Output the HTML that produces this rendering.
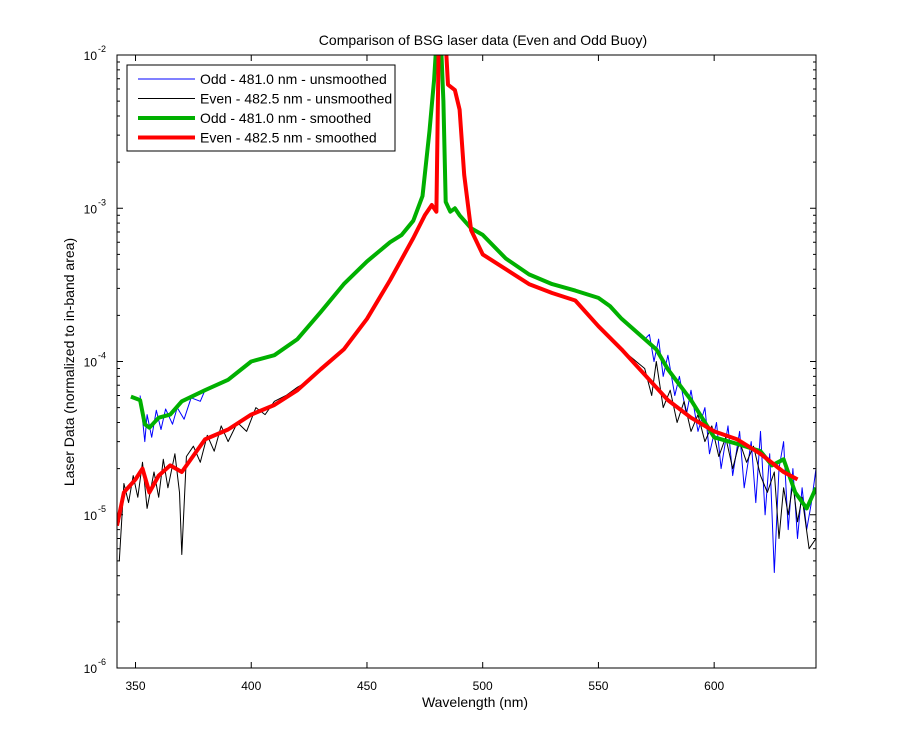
<!DOCTYPE html>
<html><head><meta charset="utf-8"><style>
body{margin:0;background:#fff;}
svg text{font-family:"Liberation Sans",sans-serif;}
</style></head><body>
<svg id="chart" width="900" height="750" xmlns="http://www.w3.org/2000/svg">
<rect width="900" height="750" fill="#fff"/>
<text x="483" y="45" font-size="14" text-anchor="middle">Comparison of BSG laser data (Even and Odd Buoy)</text>
<text x="475" y="707" font-size="14" text-anchor="middle">Wavelength (nm)</text>
<text x="74" y="362" font-size="14" text-anchor="middle" transform="rotate(-90 74 362)">Laser Data (normalized to in-band area)</text>
<defs><clipPath id="pc"><rect x="117" y="55" width="699" height="613"/></clipPath></defs>
<g id="axes"></g>
<g id="series" clip-path="url(#pc)"></g>
<rect x="117" y="55" width="699" height="613" fill="none" stroke="#000" stroke-width="1"/>
<g id="legend"></g>
</svg>
<script>
const xTicks=[350,400,450,500,550,600];
const yTickExp=[-2,-3,-4,-5,-6];
const greenX=[348,352,354,356,360,365,370,380,390,400,410,420,430,440,450,460,465,470,474,477,479,480,482,483,484,486,488,490,495,500,510,520,530,540,550,555,560,570,575,580,590,600,610,620,625,630,635,640,644];
const greenY=[5.9e-5,5.6e-5,3.9e-5,3.7e-5,4.3e-5,4.5e-5,5.5e-5,6.5e-5,7.6e-5,1e-4,1.1e-4,1.4e-4,2.1e-4,3.2e-4,4.5e-4,6.0e-4,6.7e-4,8.3e-4,1.2e-3,3.2e-3,6.9e-3,1.2e-2,1.2e-2,5e-3,1.1e-3,9.5e-4,1e-3,9e-4,7.4e-4,6.7e-4,4.7e-4,3.7e-4,3.2e-4,2.9e-4,2.6e-4,2.3e-4,1.9e-4,1.4e-4,1.2e-4,8.9e-5,5.6e-5,3.2e-5,2.9e-5,2.6e-5,2.1e-5,2.3e-5,1.4e-5,1.1e-5,1.5e-5];
const redX=[342,345,350,353,356,360,365,370,380,390,400,410,420,430,440,450,460,470,475,478,480,481,484,485,488,490,492,495,500,510,520,530,540,550,560,570,580,590,600,610,620,630,636];
const redY=[8.5e-6,1.4e-5,1.7e-5,2.0e-5,1.4e-5,1.8e-5,2.1e-5,1.9e-5,3.1e-5,3.6e-5,4.5e-5,5.2e-5,6.5e-5,8.9e-5,1.2e-4,1.9e-4,3.4e-4,6.4e-4,9e-4,1.05e-3,9.5e-4,1.2e-2,1.2e-2,6.4e-3,5.9e-3,4.4e-3,1.65e-3,7.2e-4,5e-4,4e-4,3.2e-4,2.8e-4,2.5e-4,1.7e-4,1.2e-4,8.2e-5,5.6e-5,4.3e-5,3.5e-5,3.1e-5,2.5e-5,1.9e-5,1.7e-5];
const blueLeftX=[352,354,355,357,359,361,363,366,368,371,374,378];
const blueLeftY=[6e-5,3e-5,4.5e-5,3.2e-5,4.8e-5,3.6e-5,4.9e-5,3.9e-5,5e-5,4.2e-5,5.8e-5,5.5e-5];
const blueRightX=[572,574,576,578,580,583,585,588,590,593,596,598,601,603,606,608,611,613,616,618,620,622,624,626,628,630,632,634,636,638,640,642,644];
const blueRightY=[1.5e-4,1.0e-4,1.4e-4,8e-5,1.1e-4,6e-5,8e-5,4.5e-5,6.5e-5,3.5e-5,5e-5,2.5e-5,4e-5,2e-5,3.8e-5,1.8e-5,3.5e-5,1.5e-5,3e-5,1.2e-5,3.5e-5,1e-5,2.5e-5,4.2e-6,2e-5,3e-5,8e-6,2e-5,7e-6,1.5e-5,8e-6,1.2e-5,2e-5];
const blackLeftX=[343,345,347,349,351,353,355,358,360,362,364,367,369,370,372,375,378,381,384,387,390,394,398,402,406,410,415,420,425,430,435];
const blackLeftY=[5e-6,1.6e-5,1.2e-5,1.8e-5,1.3e-5,2.2e-5,1.1e-5,1.9e-5,1.3e-5,2.3e-5,1.5e-5,2.5e-5,1.4e-5,5.5e-6,2.4e-5,2.8e-5,2.2e-5,3.3e-5,2.6e-5,3.8e-5,3e-5,4e-5,3.5e-5,5e-5,4.5e-5,5.5e-5,6e-5,6.8e-5,7.5e-5,9e-5,1.05e-4];
const blackRightX=[570,573,575,578,581,584,587,590,593,596,599,602,605,608,611,614,617,620,623,626,628,630,632,634,636,638,641,644];
const blackRightY=[9e-5,6e-5,1e-4,5e-5,6.5e-5,4e-5,5.5e-5,3.5e-5,4.5e-5,3e-5,3.8e-5,2.4e-5,3.2e-5,2e-5,3e-5,2.2e-5,2.8e-5,1.8e-5,1.4e-5,1.9e-5,7e-6,1.5e-5,1e-5,1.6e-5,9e-6,1.3e-5,6e-6,7e-6];

const L=117,R=816,T=55,B=668,X0=342,X1=644;
const sx=x=>L+(x-X0)/(X1-X0)*(R-L);
const sy=v=>T+(-2-Math.log10(v))/4*(B-T);
const NS="http://www.w3.org/2000/svg";
function mk(tag,attrs,parent){const e=document.createElementNS(NS,tag);for(const k in attrs)e.setAttribute(k,attrs[k]);parent.appendChild(e);return e;}
const axes=document.getElementById('axes');
xTicks.forEach(t=>{
  const x=sx(t);
  const a=mk('line',{x1:x,x2:x,y1:B,y2:B-6,stroke:'#000'},axes);
  
  const b=mk('line',{x1:x,x2:x,y1:T,y2:T+6,stroke:'#000'},axes);
  
  const tx=mk('text',{x:x,y:B+22,'font-size':12,'text-anchor':'middle'},axes);tx.textContent=t;
  
});
yTickExp.forEach(e=>{
  const y=sy(Math.pow(10,e));
  const a=mk('line',{x1:L,x2:L+6,y1:y,y2:y,stroke:'#000'},axes);
  
  const b=mk('line',{x1:R,x2:R-6,y1:y,y2:y,stroke:'#000'},axes);
  
  const tx=mk('text',{x:L-20,y:y+5,'font-size':12,'text-anchor':'end'},axes);tx.textContent='10';
  
  const ex=mk('text',{x:L-19,y:y-3,'font-size':9,'text-anchor':'start'},axes);ex.textContent=e;
  
  if(e>-6){for(let m=2;m<10;m++){const yy=sy(m*Math.pow(10,e-1));
    const c=mk('line',{x1:L,x2:L+3,y1:yy,y2:yy,stroke:'#000'},axes);
    
    const d=mk('line',{x1:R,x2:R-3,y1:yy,y2:yy,stroke:'#000'},axes);
    }}
});
const S=document.getElementById('series');
function path(xs,ys,color,w,name){
  const d=xs.map((x,i)=>(i?'L':'M')+sx(x).toFixed(1)+','+sy(ys[i]).toFixed(1)).join('');
  const p=mk('path',{d:d,fill:'none',stroke:color,'stroke-width':w,'stroke-linejoin':'round'},S);
  
}
function combine(lx,ly,sxs,sys,rx,ry){
  const xs=[...lx],ys=[...ly];
  sxs.forEach((x,i)=>{if(x>lx[lx.length-1]&&x<rx[0]){xs.push(x);ys.push(sys[i]);}});
  return [xs.concat(rx),ys.concat(ry)];
}
const bl=combine(blueLeftX,blueLeftY,greenX,greenY,blueRightX,blueRightY);
const bk=combine(blackLeftX,blackLeftY,redX,redY,blackRightX,blackRightY);
path(bl[0],bl[1],'#0000ff',1,'odd-unsmoothed-line');
path(bk[0],bk[1],'#000',1,'even-unsmoothed-line');
path(greenX,greenY,'#00b000',4,'odd-smoothed-line');
path(redX,redY,'#ff0000',4,'even-smoothed-line');
const lg=document.getElementById('legend');
mk('rect',{x:127,y:65,width:268,height:86,fill:'#fff',stroke:'#000'},lg);
const items=[['#0000ff',1,'Odd - 481.0 nm - unsmoothed'],['#000',1,'Even - 482.5 nm - unsmoothed'],['#00b000',4,'Odd - 481.0 nm - smoothed'],['#ff0000',4,'Even - 482.5 nm - smoothed']];
items.forEach((it,i)=>{
  const y=79+i*19.5;
  const ln=mk('line',{x1:138,x2:195,y1:y,y2:y,stroke:it[0],'stroke-width':it[1]},lg);
  
  const t=mk('text',{x:200,y:y+5,'font-size':14},lg);t.textContent=it[2];
  
});
</script>
</body></html>
